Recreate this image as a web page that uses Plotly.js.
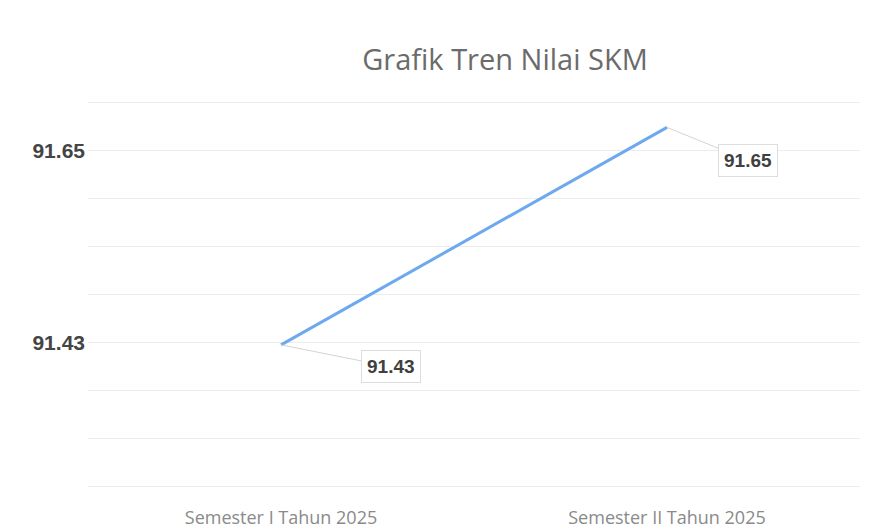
<!DOCTYPE html>
<html>
<head>
<meta charset="utf-8">
<script src="https://cdn.plot.ly/plotly-3.0.1.min.js"></script>
<style>html,body{margin:0;padding:0;background:#fff;}#chart{width:877px;height:532px;}</style>
</head>
<body>
<div id="chart"></div>
<script>
const categories = ['Semester I Tahun 2025', 'Semester II Tahun 2025'];
const values = [91.43, 91.65];
const labelTexts = ['91.43', '91.65'];
const axisLabels = ['', '', '', '91.43', '', '', '', '91.65', ''];

// axis layout (gridline positions)
const yMin = 91.2867, yMax = 91.6752;
const step = (yMax - yMin) / 8;
const tickVals = axisLabels.map((_, i) => yMin + i * step);
const pad = 0.0025;

const trace = {
  x: categories,
  y: values,
  type: 'scatter',
  mode: 'lines',
  line: {color: '#6ea8ee', width: 3},
  hoverinfo: 'skip'
};

const offsets = [[110, 22], [81, 33]];
const annotations = values.map((v, i) => ({
  x: categories[i], y: v, xref: 'x', yref: 'y',
  text: labelTexts[i],
  showarrow: true, arrowhead: 0, arrowwidth: 1, arrowcolor: '#d4d4d4',
  ax: offsets[i][0], ay: offsets[i][1],
  bordercolor: '#dddddd', borderwidth: 1, borderpad: 5, bgcolor: '#ffffff',
  font: {family: 'Liberation Sans, Arial, sans-serif', size: 19, color: '#404040', weight: 'bold'}
}));

const layout = {
  width: 877, height: 532,
  margin: {l: 88, r: 17, t: 100, b: 43},
  paper_bgcolor: '#ffffff', plot_bgcolor: '#ffffff',
  showlegend: false,
  title: {
    text: 'Grafik Tren Nilai SKM',
    x: 505 / 877, xanchor: 'center', xref: 'container',
    y: 1 - 60 / 532, yanchor: 'middle', yref: 'container',
    font: {family: 'Open Sans, Noto Sans, sans-serif', size: 29, color: '#6b6b6b'}
  },
  xaxis: {
    type: 'category', range: [-0.5, 1.5],
    showgrid: false, zeroline: false, showline: false, ticks: '',
    ticklabelstandoff: 16,
    tickfont: {family: 'Open Sans, Noto Sans, sans-serif', size: 18, color: '#8a8a8a'},
    fixedrange: true
  },
  yaxis: {
    range: [yMin - pad, yMax + pad],
    tickmode: 'array', tickvals: tickVals, ticktext: axisLabels,
    showgrid: true, gridcolor: '#ececec', gridwidth: 1,
    zeroline: false, showline: false, ticks: '',
    ticklabelstandoff: 2,
    tickfont: {family: 'Liberation Sans, Arial, sans-serif', size: 21, color: '#444444', weight: 'bold'},
    fixedrange: true
  },
  annotations: annotations
};

Plotly.newPlot('chart', [trace], layout, {displayModeBar: false, staticPlot: true});
</script>
</body>
</html>
